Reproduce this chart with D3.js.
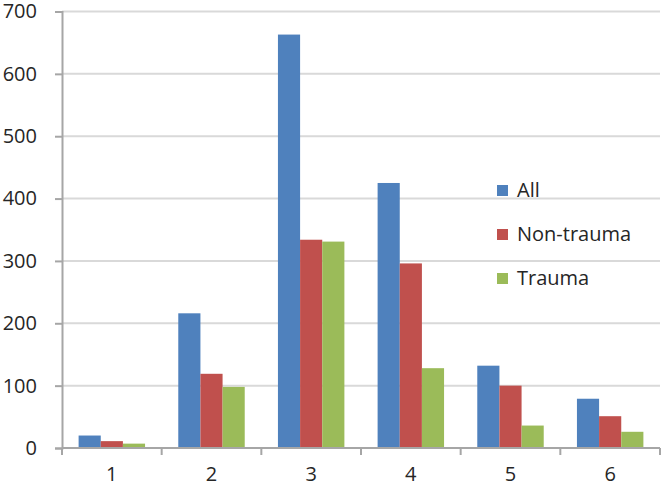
<!DOCTYPE html>
<html>
<head>
<meta charset="utf-8">
<script src="https://cdn.jsdelivr.net/npm/d3@7"></script>
<style>
  body { margin: 0; background: #fff; }
  text { font-family: "Open Sans", "DejaVu Sans", sans-serif; fill: #262626; }
</style>
</head>
<body>
<script>
var categories = ["1", "2", "3", "4", "5", "6"];
var seriesNames = ["All", "Non-trauma", "Trauma"];
var allValues = [20, 216, 663, 425, 132, 79];
var nonTraumaValues = [11, 119, 334, 296, 100, 51];
var traumaValues = [7, 98, 331, 128, 36, 26];
var yTicks = [0, 100, 200, 300, 400, 500, 600, 700];
var colors = ["#4F81BD", "#C0504D", "#9BBB59"];

var seriesValues = [allValues, nonTraumaValues, traumaValues];

var svg = d3.select("body")
    .append("svg")
    .attr("width", 664)
    .attr("height", 490);

var plotLeft = 62, plotRight = 660, plotTop = 11.5, plotBottom = 448;

var x0 = d3.scaleBand()
    .domain(categories)
    .range([plotLeft, plotRight])
    .paddingInner(0);

var x1 = d3.scaleBand()
    .domain(seriesNames)
    .range([0, x0.bandwidth()])
    .paddingInner(0)
    .paddingOuter(0.75);

var y = d3.scaleLinear()
    .domain([0, 700])
    .range([plotBottom, plotTop]);

// gridlines
svg.append("g")
    .selectAll("line")
    .data(yTicks.slice(1))
    .enter()
    .append("line")
    .attr("x1", plotLeft)
    .attr("x2", plotRight)
    .attr("y1", function(d) { return y(d); })
    .attr("y2", function(d) { return y(d); })
    .attr("stroke", "#d9d9d9")
    .attr("stroke-width", 2);

// bars
var groups = svg.append("g")
    .selectAll("g")
    .data(seriesNames)
    .enter()
    .append("g")
    .attr("fill", function(d, i) { return colors[i]; });

groups.selectAll("rect")
    .data(function(d, i) {
        return categories.map(function(c, j) {
            return { cat: c, name: d, value: seriesValues[i][j] };
        });
    })
    .enter()
    .append("rect")
    .attr("x", function(d) { return x0(d.cat) + x1(d.name); })
    .attr("width", x1.bandwidth())
    .attr("y", function(d) { return y(d.value); })
    .attr("height", function(d) { return plotBottom - y(d.value); });

// y axis
var yAxis = svg.append("g")
    .attr("transform", "translate(" + plotLeft + ",0)")
    .call(d3.axisLeft(y).tickValues(yTicks).tickSize(7).tickPadding(18));
yAxis.select(".domain").attr("stroke", "#a6a6a6").attr("stroke-width", 2);
yAxis.selectAll(".tick line").attr("stroke", "#a6a6a6").attr("stroke-width", 2);
yAxis.selectAll("text")
    .attr("font-size", "20px")
    .attr("fill", "#262626")
    .attr("font-family", "'Open Sans', sans-serif");

// x axis
var xAxis = svg.append("g")
    .attr("transform", "translate(0," + plotBottom + ")");
xAxis.append("line")
    .attr("x1", plotLeft)
    .attr("x2", plotRight)
    .attr("stroke", "#a6a6a6")
    .attr("stroke-width", 2);
xAxis.selectAll(".tk")
    .data(categories.concat(["end"]))
    .enter()
    .append("line")
    .attr("class", "tk")
    .attr("x1", function(d, i) { return i < categories.length ? x0(d) : plotRight; })
    .attr("x2", function(d, i) { return i < categories.length ? x0(d) : plotRight; })
    .attr("y1", 0)
    .attr("y2", 7)
    .attr("stroke", "#a6a6a6")
    .attr("stroke-width", 2);
xAxis.selectAll("text")
    .data(categories)
    .enter()
    .append("text")
    .attr("x", function(d) { return x0(d) + x0.bandwidth() / 2; })
    .attr("y", 33)
    .attr("text-anchor", "middle")
    .attr("font-size", "20px")
    .text(function(d) { return d; });

// legend
var legend = svg.append("g")
    .selectAll("g")
    .data(seriesNames)
    .enter()
    .append("g")
    .attr("transform", function(d, i) { return "translate(497," + (185 + i * 44) + ")"; });
legend.append("rect")
    .attr("width", 11)
    .attr("height", 11)
    .attr("fill", function(d, i) { return colors[i]; });
legend.append("text")
    .attr("x", 20)
    .attr("y", 12)
    .attr("font-size", "20px")
    .text(function(d) { return d; });
</script>
</body>
</html>
